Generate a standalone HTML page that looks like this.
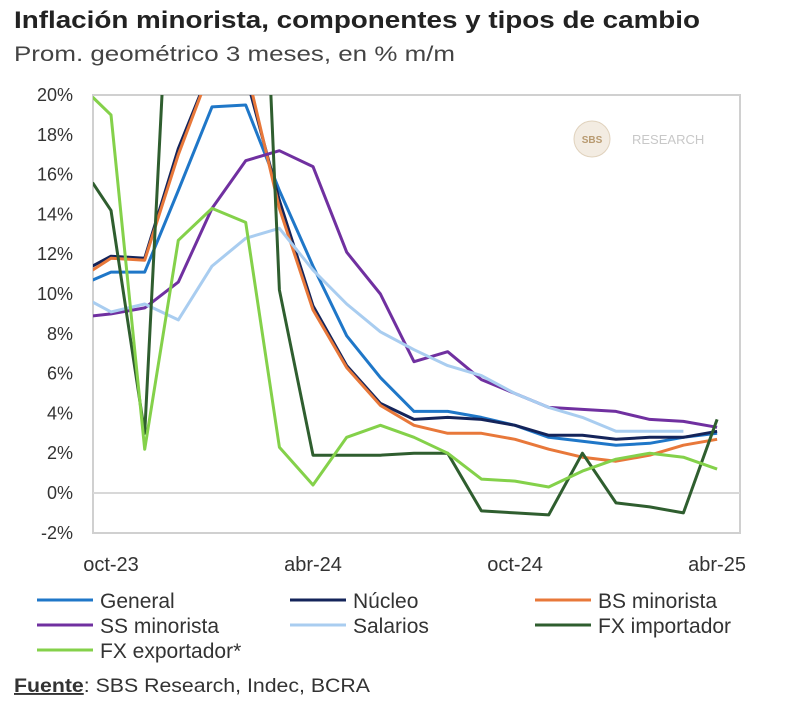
<!DOCTYPE html>
<html><head><meta charset="utf-8"><style>
body{margin:0;background:#fff;font-family:"Liberation Sans",sans-serif;}
#wrap{position:relative;width:800px;height:728px;overflow:hidden;}
</style></head><body>
<div id="wrap">
<svg id="svg" width="800" height="728" xmlns="http://www.w3.org/2000/svg">
<text x="14" y="28" font-size="24" font-weight="bold" fill="#222" textLength="686" lengthAdjust="spacingAndGlyphs">Inflación minorista, componentes y tipos de cambio</text>
<text x="14" y="61" font-size="21" fill="#444" textLength="441" lengthAdjust="spacingAndGlyphs">Prom. geométrico 3 meses, en % m/m</text>
<rect x="93" y="95" width="647" height="438" fill="none" stroke="#d0d0d0" stroke-width="2"/>
<g>
<circle cx="592" cy="139" r="18" fill="#f3ece2" stroke="#e0d2bd"/>
<text x="592" y="143" font-size="10" text-anchor="middle" fill="#b89a70" font-weight="bold">SBS</text>
<text x="632" y="144" font-size="13" fill="#c8c8c8">RESEARCH</text>
</g>
<defs><clipPath id="clip"><rect x="93" y="95" width="647" height="438"/></clipPath></defs>
<g id="yaxis"></g><g id="xaxis"></g>
<g id="series" clip-path="url(#clip)"></g>
<g id="legend"></g>
<text x="14" y="692" font-size="19" fill="#333" textLength="356" lengthAdjust="spacingAndGlyphs"><tspan font-weight="bold" text-decoration="underline">Fuente</tspan>: SBS Research, Indec, BCRA</text>
</svg>
</div>
<script>
const xIndex=[-0.55,0,1,2,3,4,5,6,7,8,9,10,11,12,13,14,15,16,17,18];
const xTickLabels=["oct-23","abr-24","oct-24","abr-25"];
const xTickIndex=[0,6,12,18];
const yTicks=[-2,0,2,4,6,8,10,12,14,16,18,20];
const seriesNames=["General","Núcleo","BS minorista","SS minorista","Salarios","FX importador","FX exportador*"];
const general=[10.7,11.1,11.1,15.2,19.4,19.5,15.2,11.4,7.9,5.8,4.1,4.1,3.8,3.4,2.8,2.6,2.4,2.5,2.8,3.0];
const nucleo=[11.4,11.9,11.8,17.3,21.5,21,14.7,9.4,6.4,4.5,3.7,3.8,3.7,3.4,2.9,2.9,2.7,2.8,2.8,3.1];
const bsMinorista=[11.2,11.8,11.7,17,21.5,21.5,14.3,9.2,6.3,4.4,3.4,3.0,3.0,2.7,2.2,1.8,1.6,1.9,2.4,2.7];
const ssMinorista=[8.9,9.0,9.3,10.6,14.3,16.7,17.2,16.4,12.1,10.0,6.6,7.1,5.7,5.0,4.3,4.2,4.1,3.7,3.6,3.3];
const salarios=[9.6,9.1,9.5,8.7,11.4,12.8,13.3,11.2,9.5,8.1,7.2,6.4,5.9,5.0,4.3,3.8,3.1,3.1,3.1,null];
const fxImportador=[15.6,14.2,3.0,36,50,49,10.2,1.9,1.9,1.9,2.0,2.0,-0.9,-1.0,-1.1,2.0,-0.5,-0.7,-1.0,3.7];
const fxExportador=[19.9,19.0,2.2,12.7,14.3,13.6,2.3,0.4,2.8,3.4,2.8,2.0,0.7,0.6,0.3,1.1,1.7,2.0,1.8,1.2];
const seriesData=[general,nucleo,bsMinorista,ssMinorista,salarios,fxImportador,fxExportador];
const colors=["#1f77c8","#14245a","#e8783a","#7030a0","#a9cdf0","#2f5e2f","#84d14a"];
const NS="http://www.w3.org/2000/svg";
const x=i=>111+i*33.67;
const y=v=>493-v*19.9;
function mk(t,a,p){const e=document.createElementNS(NS,t);for(const k in a)e.setAttribute(k,a[k]);p.appendChild(e);return e;}
const ya=document.getElementById('yaxis');
yTicks.forEach(v=>{
 if(v===0){const l=mk('line',{x1:93,x2:740,y1:y(v),y2:y(v),stroke:'#d8d8d8','stroke-width':2},ya);
 
 }
 const t=mk('text',{x:73,y:y(v)+6,'font-size':18,'text-anchor':'end',fill:'#333'},ya);t.textContent=v+'%';
 
 
});
const xa=document.getElementById('xaxis');
xTickLabels.forEach((s,k)=>{const t=mk('text',{x:x(xTickIndex[k])+0,y:571,'font-size':20,'text-anchor':'middle',fill:'#333'},xa);t.textContent=s;
 
 });
const sg=document.getElementById('series');
seriesData.forEach((d,s)=>{let p='';d.forEach((v,i)=>{if(v!==null)p+=(p?'L':'M')+x(xIndex[i]).toFixed(1)+' '+y(v).toFixed(1);});
 const e=mk('path',{d:p,fill:'none',stroke:colors[s],'stroke-width':3,'stroke-linejoin':'round'},sg);
 
 });
const lg=document.getElementById('legend');
const lpos=[[37,600],[290,600],[535,600],[37,625],[290,625],[535,625],[37,650]];
seriesNames.forEach((n,s)=>{const g=mk('g',{},lg);
 
 
 const [lx,ly]=lpos[s];
 mk('line',{x1:lx,x2:lx+56,y1:ly,y2:ly,stroke:colors[s],'stroke-width':3},g);
 const t=mk('text',{x:lx+63,y:ly+8,'font-size':21,fill:'#333'},g);t.textContent=n;});
</script>
</body></html>
